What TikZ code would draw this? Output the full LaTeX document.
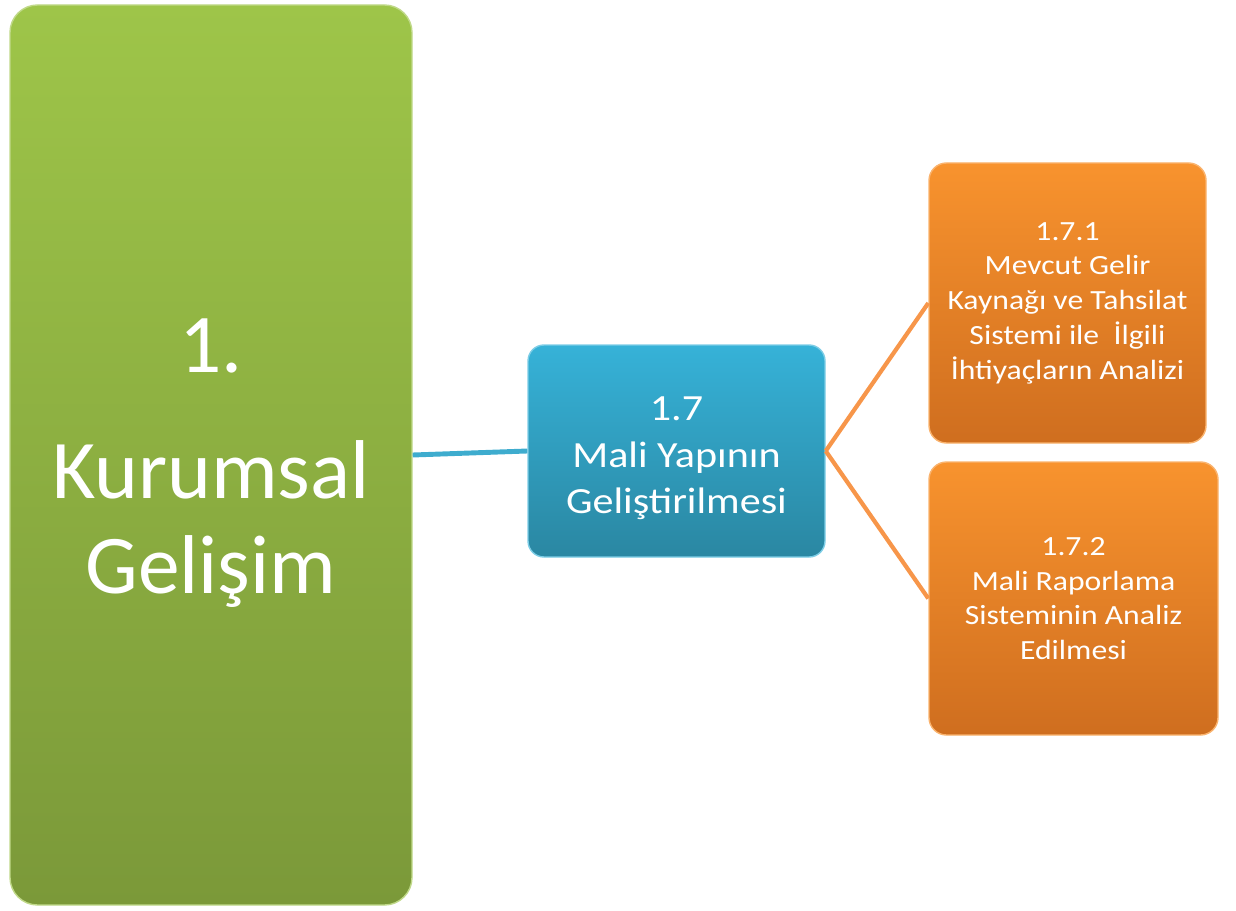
\documentclass[tikz,border=0pt]{standalone}
\usepackage{fontspec}
\setmainfont{Carlito}
\newfontfamily\wideCal[FakeStretch=1.14]{Carlito}

\definecolor{greenTop}{RGB}{158,197,73}
\definecolor{greenBot}{RGB}{123,153,57}
\definecolor{blueTop}{RGB}{54,178,216}
\definecolor{blueBot}{RGB}{42,135,162}
\definecolor{orangeTop}{RGB}{248,147,46}
\definecolor{orangeBot}{RGB}{207,110,31}
\definecolor{blueLine}{RGB}{62,172,206}
\definecolor{orangeLine}{RGB}{247,150,74}

\begin{document}
\begin{tikzpicture}[
  mainbox/.style={rectangle,rounded corners=0.55cm,top color=greenTop,bottom color=greenBot,
    draw=white!35!greenTop,line width=0.8pt,text=white,align=center,inner sep=0pt,
    font=\fontsize{47.5}{54}\selectfont},
  subbox/.style={rectangle,rounded corners=0.32cm,top color=blueTop,bottom color=blueBot,
    draw=white!35!blueTop,line width=0.8pt,text=white,align=center,inner sep=0pt,
    font=\wideCal\fontsize{21}{26.5}\selectfont},
  itembox/.style={rectangle,rounded corners=0.35cm,top color=orangeTop,bottom color=orangeBot,
    draw=white!30!orangeTop,line width=0.8pt,text=white,align=center,inner sep=0pt,
    font=\wideCal\fontsize{15.8}{19.8}\selectfont}]
 \useasboundingbox (0,0) rectangle (24.72,18.2);
 % boxes
 \node[mainbox,minimum width=8.04cm,minimum height=18cm] (kurumsal) at (4.22,9.1) {\rule{0pt}{40pt}1.\\[18pt]Kurumsal\\Gelişim};
 \node[subbox,minimum width=5.94cm,minimum height=4.24cm] (mali) at (13.53,9.18) {\rule{0pt}{22pt}1.7\\Mali Yapının\\Geliştirilmesi};
 \node[itembox,minimum width=5.54cm,minimum height=5.6cm] (gelir) at (21.35,12.14) {1.7.1\\Mevcut Gelir\\Kaynağı ve Tahsilat\\Sistemi ile~ İlgili\\İhtiyaçların Analizi};
 \node[itembox,minimum width=5.78cm,minimum height=5.46cm] (rapor) at (21.47,6.23) {1.7.2\\Mali Raporlama\\Sisteminin Analiz\\Edilmesi};
 % connectors
 \draw[blueLine,line width=2.8pt] (kurumsal.east) -- (mali.west);
 \draw[orangeLine,line width=2.4pt] (mali.east) -- (gelir.west);
 \draw[orangeLine,line width=2.4pt] (mali.east) -- (rapor.west);
\end{tikzpicture}
\end{document}
